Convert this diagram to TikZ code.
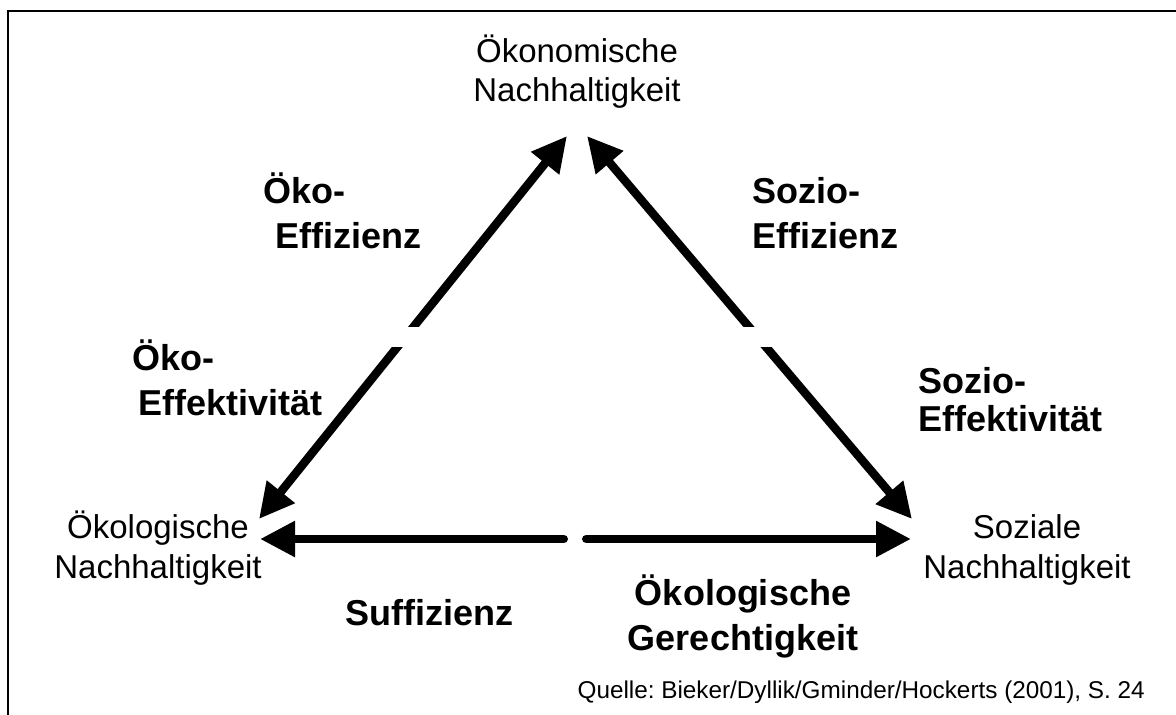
\documentclass[tikz,border=0pt]{standalone}
\usepackage{fontspec}
\setmainfont{Liberation Sans}
\usetikzlibrary{arrows.meta}
\frenchspacing

\tikzset{
  pole/.style={inner sep=0pt, anchor=base, font=\fontsize{33}{40}\selectfont},
  strategy/.style={inner sep=0pt, anchor=base west, font=\fontsize{36}{42}\selectfont\bfseries},
  strategyc/.style={inner sep=0pt, anchor=base, font=\fontsize{36}{42}\selectfont\bfseries},
  source/.style={inner sep=0pt, anchor=base east, font=\fontsize{24.3}{29}\selectfont},
  relation/.style={line width=8.5pt, -{Triangle[length=35pt,width=34pt]}},
  relation2/.style={line width=8.5pt, {Triangle[length=35pt,width=34pt]}-{Triangle[length=35pt,width=34pt]}},
  gapmask/.style={fill=white, draw=none},
}

\begin{document}
\begin{tikzpicture}[x=1pt, y=-1pt]
  \useasboundingbox (0,0) rectangle (1176,715);
  \clip (0,0) rectangle (1176,715);

  % open frame (top and left edges)
  \draw[line width=2pt] (1190,10.5) -- (8.3,10.5) -- (8.3,730);

  % the three dimensions
  \node[pole] (eco1) at (577,62) {Ökonomische};
  \node[pole] (eco2) at (577,101) {Nachhaltigkeit};
  \node[pole] (env1) at (158,538) {Ökologische};
  \node[pole] (env2) at (158,578) {Nachhaltigkeit};
  \node[pole] (soc1) at (1027,538) {Soziale};
  \node[pole] (soc2) at (1027,578) {Nachhaltigkeit};

  % arrow tips next to the dimensions
  \coordinate (ecoL) at (567,136);
  \coordinate (ecoR) at (587,136);
  \coordinate (envU) at (259,519);
  \coordinate (envR) at (260,539);
  \coordinate (socU) at (912,519);
  \coordinate (socL) at (911,539);
  \coordinate (midL) at (563.75,539);
  \coordinate (midR) at (586.25,539);

  % connecting relations
  \draw[relation2] (ecoL) -- (envU);
  \draw[relation2] (ecoR) -- (socU);
  \draw[relation, line cap=round] (midL) -- (envR);
  \draw[relation, line cap=round] (midR) -- (socL);

  % breaks in the diagonal relations
  \fill[gapmask] (370,327) rectangle (440,347);
  \fill[gapmask] (715,327) rectangle (785,347);

  % strategies
  \node[strategy] (oe1) at (263,203) {Öko-};
  \node[strategy] (oe2) at (275,248) {Effizienz};
  \node[strategy] (se1) at (752,203) {Sozio-};
  \node[strategy] (se2) at (752,248) {Effizienz};
  \node[strategy] (ok1) at (132,370) {Öko-};
  \node[strategy] (ok2) at (138,415) {Effektivität};
  \node[strategy] (sk1) at (918,393) {Sozio-};
  \node[strategy] (sk2) at (918,431) {Effektivität};
  \node[strategy] (suf) at (345,625) {Suffizienz};
  \node[strategyc] (og1) at (743,605) {Ökologische};
  \node[strategyc] (og2) at (743,650) {Gerechtigkeit};

  % source
  \node[source] (src) at (1145,698) {Quelle: Bieker/Dyllik/Gminder/Hockerts (2001), S. 24};
\end{tikzpicture}
\end{document}
